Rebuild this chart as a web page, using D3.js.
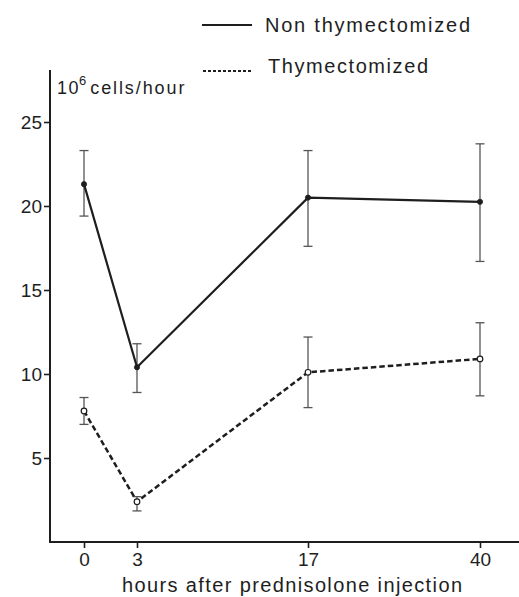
<!DOCTYPE html>
<html>
<head>
<meta charset="utf-8">
<script src="https://cdn.jsdelivr.net/npm/d3@7"></script>
<style>
  html, body { margin: 0; padding: 0; background: #fff; }
  svg text { font-family: "Liberation Sans", Arial, sans-serif; fill: #1e1e1e; }
</style>
</head>
<body>
<div id="chart"></div>
<script>
// Données
const hours = [0, 3, 17, 40];
const xTickLabels = ["0", "3", "17", "40"];
const yTicks = [5, 10, 15, 20, 25];

// Non thymectomisés (trait plein)
const nonThymMean = [21.3, 10.4, 20.5, 20.25];
const nonThymHigh = [23.3, 11.8, 23.3, 23.7];
const nonThymLow  = [19.4, 8.9, 17.6, 16.7];

// Thymectomisés (pointillés)
const thymMean = [7.8, 2.4, 10.1, 10.9];
const thymHigh = [8.6, 2.7, 12.2, 13.05];
const thymLow  = [7.0, 1.85, 8.0, 8.7];

const width = 519;
const height = 597;
const axisX = 50;
const axisY = 542;

const svg = d3.select("#chart")
  .append("svg")
  .attr("width", width)
  .attr("height", height);

// échelle x non linéaire (heures placées comme sur la figure)
const x = d3.scaleLinear()
  .domain(hours)
  .range([84, 137, 308, 480]);

const y = d3.scaleLinear()
  .domain([0, 25])
  .range([axisY, 122]);

const ink = "#1e1e1e";

// Axe Y
const yAxis = svg.append("g")
  .attr("transform", `translate(${axisX},0)`)
  .call(d3.axisLeft(y).tickValues(yTicks).tickSize(6).tickPadding(2).tickSizeOuter(0));
yAxis.select(".domain").remove();
yAxis.selectAll("line").attr("stroke", ink).attr("stroke-width", 1.6);
yAxis.selectAll("text")
  .attr("font-size", 19)
  .attr("fill", ink)
  .style("font-family", "'Liberation Sans', Arial, sans-serif");

svg.append("line")
  .attr("x1", axisX).attr("x2", axisX)
  .attr("y1", y(28.1)).attr("y2", axisY + 1)
  .attr("stroke", ink).attr("stroke-width", 2);

// Axe X
const xAxis = svg.append("g")
  .attr("transform", `translate(0,${axisY})`)
  .call(d3.axisBottom(x).tickValues(hours).tickFormat((d, i) => xTickLabels[i]).tickSize(6).tickPadding(5).tickSizeOuter(0));
xAxis.select(".domain").remove();
xAxis.selectAll("line").attr("stroke", ink).attr("stroke-width", 1.6);
xAxis.selectAll("text")
  .attr("font-size", 19)
  .attr("fill", ink)
  .style("font-family", "'Liberation Sans', Arial, sans-serif");

svg.append("line")
  .attr("x1", axisX - 1).attr("x2", width)
  .attr("y1", axisY).attr("y2", axisY)
  .attr("stroke", ink).attr("stroke-width", 2);

// Titre de l'axe X
svg.append("text")
  .attr("x", 122)
  .attr("y", 592)
  .attr("font-size", 20)
  .attr("textLength", 340)
  .attr("lengthAdjust", "spacing")
  .text("hours after prednisolone injection");

// Unité de l'axe Y
const unit = svg.append("text")
  .attr("x", 57)
  .attr("y", 94)
  .attr("font-size", 18);
unit.append("tspan").attr("letter-spacing", 1.5).text("10");
unit.append("tspan").attr("font-size", 13).attr("dy", -9).attr("dx", -1).text("6");
unit.append("tspan").attr("dy", 9).attr("dx", 4).attr("letter-spacing", 1.9).text("cells/hour");

// Séries
const series = [
  { mean: nonThymMean, high: nonThymHigh, low: nonThymLow, dash: null, open: false },
  { mean: thymMean, high: thymHigh, low: thymLow, dash: "5.5,3", open: true }
];

series.forEach(s => {
  const pts = hours.map((h, i) => ({ h, m: s.mean[i], hi: s.high[i], lo: s.low[i] }));

  // barres d'erreur
  const eb = svg.append("g").attr("stroke", "#555").attr("stroke-width", 1.3);
  eb.selectAll("line.v").data(pts).join("line")
    .attr("x1", d => x(d.h)).attr("x2", d => x(d.h))
    .attr("y1", d => y(d.hi)).attr("y2", d => y(d.lo));
  eb.selectAll("line.t").data(pts).join("line")
    .attr("x1", d => x(d.h) - 4.5).attr("x2", d => x(d.h) + 4.5)
    .attr("y1", d => y(d.hi)).attr("y2", d => y(d.hi));
  eb.selectAll("line.b").data(pts).join("line")
    .attr("x1", d => x(d.h) - 4.5).attr("x2", d => x(d.h) + 4.5)
    .attr("y1", d => y(d.lo)).attr("y2", d => y(d.lo));

  // courbe
  svg.append("path")
    .datum(pts)
    .attr("fill", "none")
    .attr("stroke", ink)
    .attr("stroke-width", s.dash ? 2.5 : 2.2)
    .attr("stroke-dasharray", s.dash)
    .attr("d", d3.line().x(d => x(d.h)).y(d => y(d.m)));

  // points
  svg.selectAll(null).data(pts).join("circle")
    .attr("cx", d => x(d.h))
    .attr("cy", d => y(d.m))
    .attr("r", s.open ? 2.8 : 2.6)
    .attr("fill", s.open ? "#fff" : ink)
    .attr("stroke", ink)
    .attr("stroke-width", s.open ? 1.2 : 0.8);
});

// Légende
svg.append("line")
  .attr("x1", 202).attr("x2", 252)
  .attr("y1", 25).attr("y2", 25)
  .attr("stroke", ink).attr("stroke-width", 2);
svg.append("text")
  .attr("x", 265).attr("y", 32)
  .attr("font-size", 20)
  .attr("textLength", 205)
  .attr("lengthAdjust", "spacing")
  .text("Non thymectomized");

svg.append("line")
  .attr("x1", 203).attr("x2", 253)
  .attr("y1", 71).attr("y2", 71)
  .attr("stroke", ink).attr("stroke-width", 1.8)
  .attr("stroke-dasharray", "3,2");
svg.append("text")
  .attr("x", 268).attr("y", 73)
  .attr("font-size", 20)
  .attr("textLength", 160)
  .attr("lengthAdjust", "spacing")
  .text("Thymectomized");
</script>
</body>
</html>
